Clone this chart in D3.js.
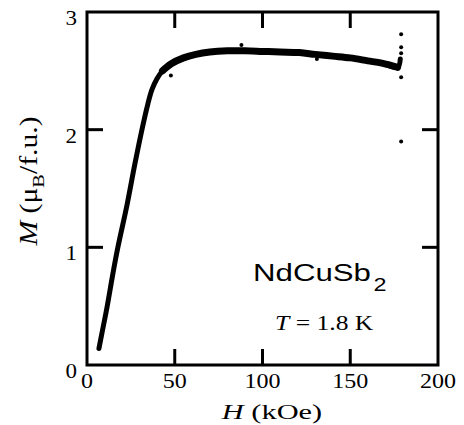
<!DOCTYPE html>
<html lang="en">
<head>
<meta charset="utf-8">
<title>NdCuSb2 M(H)</title>
<script src="https://d3js.org/d3.v7.min.js"></script>
<style>
  body { margin: 0; background: #fff; }
  .tick-label { font-family: "Liberation Serif", "Times New Roman", serif; font-size: 20px; }
</style>
</head>
<body>
<script>
// measured curve, H in kOe, M in muB/f.u.
var fieldH = [6.8, 8.5, 11.4, 14.8, 17.6, 22.8, 27.3, 31.3, 34.7, 37, 39.8, 43, 48, 55, 62, 70, 80, 90, 100, 110, 121, 130, 140, 150, 160, 168, 177, 178.5];
var momentM = [0.14, 0.27, 0.49, 0.78, 1.0, 1.36, 1.71, 2.0, 2.22, 2.34, 2.43, 2.5, 2.56, 2.61, 2.64, 2.66, 2.67, 2.67, 2.665, 2.66, 2.655, 2.64, 2.625, 2.61, 2.585, 2.565, 2.53, 2.6];
// stray points
var strayH = [47.8, 88, 131, 179, 179, 179, 179, 179];
var strayM = [2.46, 2.72, 2.6, 2.81, 2.70, 2.65, 2.445, 1.90];

var xTicks = [0, 50, 100, 150, 200];
var yTicks = [0, 1, 2, 3];

var width = 464, height = 425;
var margin = { left: 87, right: 26, top: 12, bottom: 60 };
var plotW = width - margin.left - margin.right;
var plotH = height - margin.top - margin.bottom;

var svg = d3.select("body").append("svg")
    .attr("width", width)
    .attr("height", height);

var xScale = d3.scaleLinear().domain([0, 200]).range([margin.left, margin.left + plotW]);
var yScale = d3.scaleLinear().domain([0, 3]).range([margin.top + plotH, margin.top]);

// frame
svg.append("rect")
    .attr("x", xScale(0)).attr("y", yScale(3))
    .attr("width", xScale(200) - xScale(0))
    .attr("height", yScale(0) - yScale(3))
    .attr("fill", "none").attr("stroke", "#000").attr("stroke-width", 3);

// inward ticks, all four sides
var tickLen = 16;
var innerX = xTicks.slice(1, -1), innerY = yTicks.slice(1, -1);
innerX.forEach(function(t) {
    svg.append("line").attr("x1", xScale(t)).attr("x2", xScale(t))
        .attr("y1", yScale(0)).attr("y2", yScale(0) - tickLen)
        .attr("stroke", "#000").attr("stroke-width", 3);
    svg.append("line").attr("x1", xScale(t)).attr("x2", xScale(t))
        .attr("y1", yScale(3)).attr("y2", yScale(3) + tickLen)
        .attr("stroke", "#000").attr("stroke-width", 3);
});
innerY.forEach(function(t) {
    svg.append("line").attr("x1", xScale(0)).attr("x2", xScale(0) + tickLen)
        .attr("y1", yScale(t)).attr("y2", yScale(t))
        .attr("stroke", "#000").attr("stroke-width", 3);
    svg.append("line").attr("x1", xScale(200)).attr("x2", xScale(200) - tickLen)
        .attr("y1", yScale(t)).attr("y2", yScale(t))
        .attr("stroke", "#000").attr("stroke-width", 3);
});

// text in the figure is a bit wider than the font, stretch it
function place(x, y, sx) {
    return "translate(" + x + "," + y + ") scale(" + sx + ",1)";
}

// tick labels
svg.selectAll(".xlab").data(xTicks).enter().append("text")
    .attr("class", "tick-label")
    .attr("transform", function(d) { return place(xScale(d), yScale(0) + 23, 1.2); })
    .attr("text-anchor", "middle")
    .text(function(d) { return d; });

svg.selectAll(".ylab").data(yTicks).enter().append("text")
    .attr("class", "tick-label")
    .attr("transform", function(d) { return place(xScale(0) - 10, yScale(d) + 13, 1.15); })
    .attr("text-anchor", "end")
    .text(function(d) { return d; });

// data curve
var pts = fieldH.map(function(h, i) { return [h, momentM[i]]; });
var line = d3.line()
    .x(function(d) { return xScale(d[0]); })
    .y(function(d) { return yScale(d[1]); })
    .curve(d3.curveCatmullRom);

svg.append("path").datum(pts)
    .attr("d", line)
    .attr("fill", "none").attr("stroke", "#000")
    .attr("stroke-width", 5).attr("stroke-linecap", "round");

// plateau is a wider scatter band
svg.append("path").datum(pts.filter(function(d) { return d[0] >= 40 && d[0] <= 177; }))
    .attr("d", line)
    .attr("fill", "none").attr("stroke", "#000")
    .attr("stroke-width", 7).attr("stroke-linecap", "round");

svg.selectAll(".stray").data(strayH).enter().append("circle")
    .attr("cx", function(d) { return xScale(d); })
    .attr("cy", function(d, i) { return yScale(strayM[i]); })
    .attr("r", 2)
    .attr("fill", "#000");

// labels
var serif = "'Liberation Serif', 'Times New Roman', serif";
var xTitle = svg.append("text")
    .attr("transform", place(272, 419, 1.38))
    .attr("text-anchor", "middle")
    .style("font-family", serif).style("font-size", "22px");
xTitle.append("tspan").style("font-style", "italic").text("H");
xTitle.append("tspan").text(" (kOe)");

var yTitle = svg.append("text")
    .attr("transform", "translate(37,181) rotate(-90) scale(1.35,1.1)")
    .attr("text-anchor", "middle")
    .style("font-family", serif).style("font-size", "22px");
yTitle.append("tspan").style("font-style", "italic").text("M");
yTitle.append("tspan").text(" (\u03bc");
yTitle.append("tspan").attr("dy", 6).style("font-size", "15px").text("B");
yTitle.append("tspan").attr("dy", -6).text("/f.u.)");

var comp = svg.append("text")
    .attr("transform", place(253, 281, 1.3))
    .style("font-family", "'Liberation Sans', Arial, sans-serif").style("font-size", "24px");
comp.append("tspan").text("NdCuSb");
comp.append("tspan").attr("dy", 10).attr("dx", 2).style("font-size", "18px").text("2");

var temp = svg.append("text")
    .attr("transform", place(275, 330, 1.28))
    .style("font-family", serif).style("font-size", "20px");
temp.append("tspan").style("font-style", "italic").text("T");
temp.append("tspan").text(" = 1.8 K");
</script>
</body>
</html>
